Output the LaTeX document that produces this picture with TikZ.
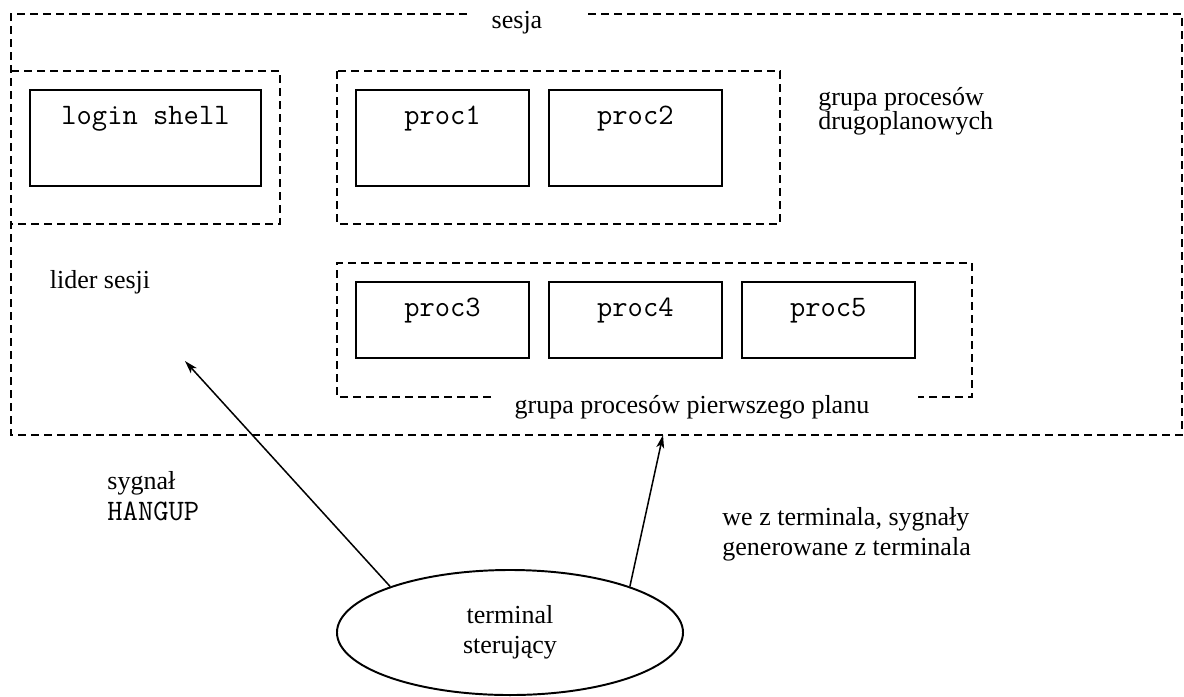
\documentclass[tikz,border=0pt]{standalone}
\usepackage{fontspec}
\setmainfont{Liberation Serif}
\usepackage{tikz}
\usetikzlibrary{arrows.meta,positioning,shapes.geometric}
\newcommand{\kod}{\ttfamily\fontsize{13.7}{14}\selectfont}
\tikzstyle{proc}=[rectangle,draw=black,line width=0.9pt,minimum width=79.8,minimum height=44.3,inner sep=0]
\tikzstyle{title}=[anchor=north,inner sep=0,text height=8.5pt,text depth=2.5pt,yshift=-7.5,font=\kod]
\tikzstyle{group}=[line width=0.8pt,dash pattern=on 3.7pt off 2.3pt]
\tikzstyle{txt}=[inner sep=0,align=left]

\begin{document}
\begin{tikzpicture}[x=0.4615pt,y=-0.4615pt,node distance=18,>={Stealth[length=6pt,width=3.6pt,inset=1.5pt]},font=\fontsize{12}{14}\selectfont]
	\useasboundingbox (0,0) rectangle (1184,696);

	\node[proc,minimum width=106.6,label={[title]north:login shell}]	(login)	at (145.5,138)	{};
	\node[proc,label={[title]north:proc1}]	(proc1)	at (442.5,138)	{};
	\node[proc,label={[title]north:proc2}]	(proc2)	[right=of proc1]	{};
	\node[proc,minimum height=35.1,label={[title]north:proc3}]	(proc3)	at (442.5,320)	{};
	\node[proc,minimum height=35.1,label={[title]north:proc4}]	(proc4)	[right=of proc3]	{};
	\node[proc,minimum height=35.1,label={[title]north:proc5}]	(proc5)	[right=of proc4]	{};

	\draw[group] (467,14) -| (11,435) -| (1182,14) -- (588,14);
	\draw[group] (11,71) -| (280,224) -- (11,224);
	\draw[group] (337,71) rectangle (780,224);
	\draw[group] (491,397) -| (337,263) -| (972,397) -- (918,397);

	\node[txt]	(sesja)	at (517,23)	{sesja};
	\node[txt,anchor=west,font=\fontsize{12}{11}\selectfont]	(drugi)	at (818,111)	{grupa procesów\\drugoplanowych};
	\node[txt]	(lider)	at (100,282)	{lider sesji};
	\node[txt]	(pierwszy)	at (692,407)	{grupa procesów pierwszego planu};
	\node[txt,anchor=west]	(hangup)	at (107,496)	{sygnał\\{\kod HANGUP}};
	\node[txt,anchor=west]	(wejscie)	at (722,534)	{we z terminala, sygnały\\generowane z terminala};

	\node[ellipse,draw=black,line width=0.9pt,minimum width=159.7,minimum height=57.7,inner sep=0,align=center]	(term)	at (510,632.5)	{terminal\\sterujący};

	\coordinate (doLidera) at (185,361);
	\coordinate (doGrupy) at (663,435);
	\draw[->,line width=0.7pt] (term.159) -- (doLidera);
	\draw[->,line width=0.7pt] (term.21) -- (doGrupy);
\end{tikzpicture}
\end{document}
